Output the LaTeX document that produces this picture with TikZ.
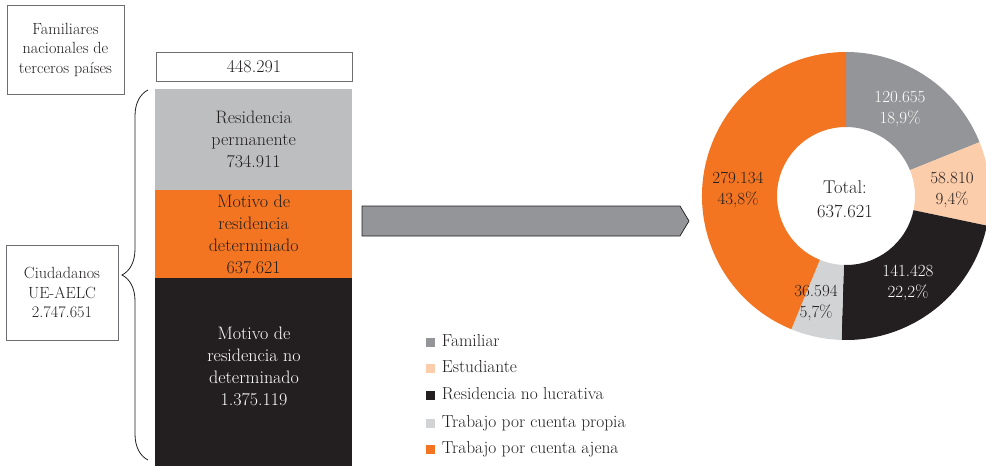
\documentclass[tikz,border=0pt]{standalone}
\usepackage{fontspec}
\usetikzlibrary{positioning,decorations.pathreplacing}
\definecolor{ink}{HTML}{231F20}
\definecolor{orangec}{HTML}{F37421}
\definecolor{bargray}{HTML}{BCBEC0}
\definecolor{midgray}{HTML}{939598}
\definecolor{peach}{HTML}{FCCDAA}
\definecolor{pale}{HTML}{D1D3D4}
\definecolor{framegray}{HTML}{6D6E71}
\begin{document}
\begin{tikzpicture}[x=1pt,y=-1pt,text=ink,font=\fontsize{18}{22}\selectfont,
    frame/.style={draw=framegray,line width=0.9pt,align=center,inner sep=0pt,font=\fontsize{16.2}{19.5}\selectfont},
    bar/.style={anchor=north west,minimum width=197pt,inner sep=0pt,align=center},
    num/.style={align=center,inner sep=0pt,font=\fontsize{17}{21}\selectfont},
    key/.style={minimum size=9pt,inner sep=0pt},
    keytext/.style={inner sep=0pt,text height=12pt,text depth=4pt,font=\fontsize{17.4}{21}\selectfont}]
    \useasboundingbox (0,0) rectangle (986,466);
    % left boxes
    \node[frame,minimum width=117pt,minimum height=89pt] (fam) at (65.5,49.5) {Familiares\\nacionales de\\terceros países};
    \node[frame,minimum width=112pt,minimum height=95pt] (ciud) at (62,292.5) {Ciudadanos\\UE-AELC\\2.747.651};
    \node[frame,minimum width=196pt,minimum height=29pt,font=\fontsize{18}{22}\selectfont] (fam_n) at (254,66.5) {448.291};
    % stacked bar
    \node[bar,fill=bargray,minimum height=101pt] (perm) at (155,89) {Residencia\\permanente\\734.911};
    \node[bar,fill=orangec,minimum height=88pt] (det) at (155,190) {Motivo de\\residencia\\determinado\\637.621};
    \node[bar,fill=ink,minimum height=188pt] (nodet) at (155,278) {};
    \node[align=center,text=white,inner sep=0pt] (nodet_t) at (254,366) {Motivo de\\residencia no\\determinado\\1.375.119};
    \draw[ink,line width=0.8pt,decorate,decoration={brace,amplitude=26pt}] (148,460) -- (148,90);
    % arrow
    \draw[ink,line width=0.7pt,fill=midgray] (362,206) -- (680,206) -- (689,221) -- (680,236) -- (362,236) -- cycle;
    % donut
    \begin{scope}[shift={(846,196)},y=1pt]
        \foreach \a/\b/\c in {90/21.96/midgray,21.96/-11.88/peach,-11.88/-91.8/ink,-91.8/-112.32/pale,-112.32/-270/orangec}
            \fill[\c] (\a:144) arc[start angle=\a,end angle=\b,radius=144] -- (\b:69) arc[start angle=\b,end angle=\a,radius=69] -- cycle;
    \end{scope}
    \node[num,text=white] (v_1) at (900,109) {120.655\\18,9\%};
    \node[num] (v_2) at (952,190) {58.810\\9,4\%};
    \node[num,text=white] (v_3) at (908,283) {141.428\\22,2\%};
    \node[num] (v_4) at (816,303) {36.594\\5,7\%};
    \node[num] (v_5) at (738,190) {279.134\\43,8\%};
    \node[align=center,inner sep=0pt,font=\fontsize{18.5}{24}\selectfont] (tot) at (845,199) {Total:\\637.621};
    % legend
    \node[key,fill=midgray] (k_1) at (430,342) {};
    \node[key,fill=peach] (k_2) [below=17.5pt of k_1] {};
    \node[key,fill=ink] (k_3) [below=17.5pt of k_2] {};
    \node[key,fill=pale] (k_4) [below=18.5pt of k_3] {};
    \node[key,fill=orangec] (k_5) [below=16.5pt of k_4] {};
    \node[keytext] (l_1) [right=7pt of k_1] {Familiar};
    \node[keytext] (l_2) [right=7pt of k_2] {Estudiante};
    \node[keytext] (l_3) [right=7pt of k_3] {Residencia no lucrativa};
    \node[keytext] (l_4) [right=7pt of k_4] {Trabajo por cuenta propia};
    \node[keytext] (l_5) [right=7pt of k_5] {Trabajo por cuenta ajena};
\end{tikzpicture}
\end{document}
